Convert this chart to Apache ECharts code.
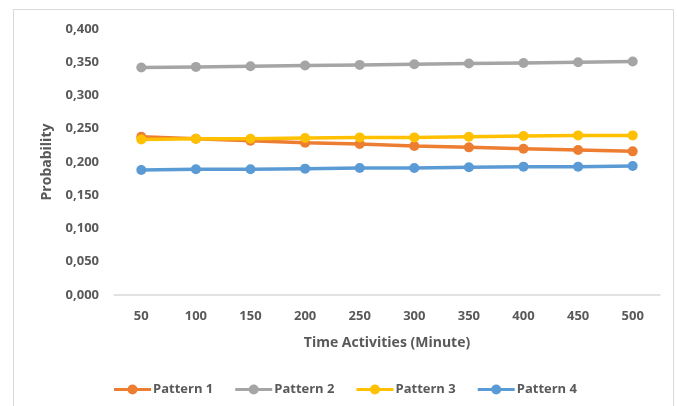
<!DOCTYPE html>
<html><head><meta charset="utf-8">
<script src="https://cdn.jsdelivr.net/npm/echarts@6/dist/echarts.min.js"></script>
<style>html,body{margin:0;padding:0;background:#fff}#c{width:677px;height:406px}</style>
</head><body><div id="c"></div>
<script>
const categories = ['50','100','150','200','250','300','350','400','450','500'];
const pattern1 = [0.238,0.235,0.232,0.229,0.227,0.224,0.222,0.220,0.218,0.216];
const pattern2 = [0.342,0.343,0.344,0.345,0.346,0.347,0.348,0.349,0.350,0.351];
const pattern3 = [0.234,0.235,0.235,0.236,0.237,0.237,0.238,0.239,0.240,0.240];
const pattern4 = [0.188,0.189,0.189,0.190,0.191,0.191,0.192,0.193,0.193,0.194];
const seriesNames = ['Pattern 1','Pattern 2','Pattern 3','Pattern 4'];
const colors = ['#ED7D31','#A5A5A5','#FFC000','#5B9BD5'];
const FONT = 'Open Sans';
const TXT = '#595959';
const legendIcon = 'path://M0,3.4 H37 V6.6 H0 Z M13.5,5 A5,5 0 1,1 23.5,5 A5,5 0 1,1 13.5,5 Z';
const chart = echarts.init(document.getElementById('c'));
const data = [pattern1, pattern2, pattern3, pattern4];
chart.setOption({
  animation: false,
  color: colors,
  graphic: [{type:'rect', shape:{x:13.5,y:9.5,width:660,height:420}, style:{fill:'none', stroke:'#d9d9d9', lineWidth:1}}],
  grid: {left:114, right:17, top:29, bottom:111},
  legend: {
    data: seriesNames, left: 109, top: 378,
    icon: legendIcon, itemWidth: 37, itemHeight: 10, itemGap: 22,
    itemStyle: {borderWidth: 0},
    textStyle: {fontFamily: FONT, fontSize: 13, fontWeight: 'bold', color: TXT, padding:[0,0,0,-3]}
  },
  xAxis: {
    type: 'category', data: categories, boundaryGap: true,
    axisLine: {show: true, lineStyle: {color: '#d9d9d9', width: 1.5}},
    axisTick: {show: false},
    axisLabel: {fontFamily: FONT, fontSize: 13, fontWeight: 'bold', color: TXT, margin: 15},
    name: 'Time Activities (Minute)', nameLocation: 'middle', nameGap: 41,
    nameTextStyle: {fontFamily: FONT, fontSize: 14, fontWeight: 'bold', color: TXT}
  },
  yAxis: {
    type: 'value', min: 0, max: 0.4, interval: 0.05,
    splitLine: {show: false}, axisLine: {show: false}, axisTick: {show: false},
    axisLabel: {fontFamily: FONT, fontSize: 13, fontWeight: 'bold', color: TXT, margin: 15,
      formatter: v => v.toFixed(3).replace('.', ',')},
    name: 'Probability', nameLocation: 'middle', nameGap: 60, nameRotate: 90,
    nameTextStyle: {fontFamily: FONT, fontSize: 14, fontWeight: 'bold', color: TXT}
  },
  series: seriesNames.map((n, i) => ({
    name: n, type: 'line', data: data[i], symbol: 'circle', symbolSize: 10,
    lineStyle: {width: 3.5, color: colors[i]}, itemStyle: {color: colors[i]}
  }))
});
</script></body></html>
